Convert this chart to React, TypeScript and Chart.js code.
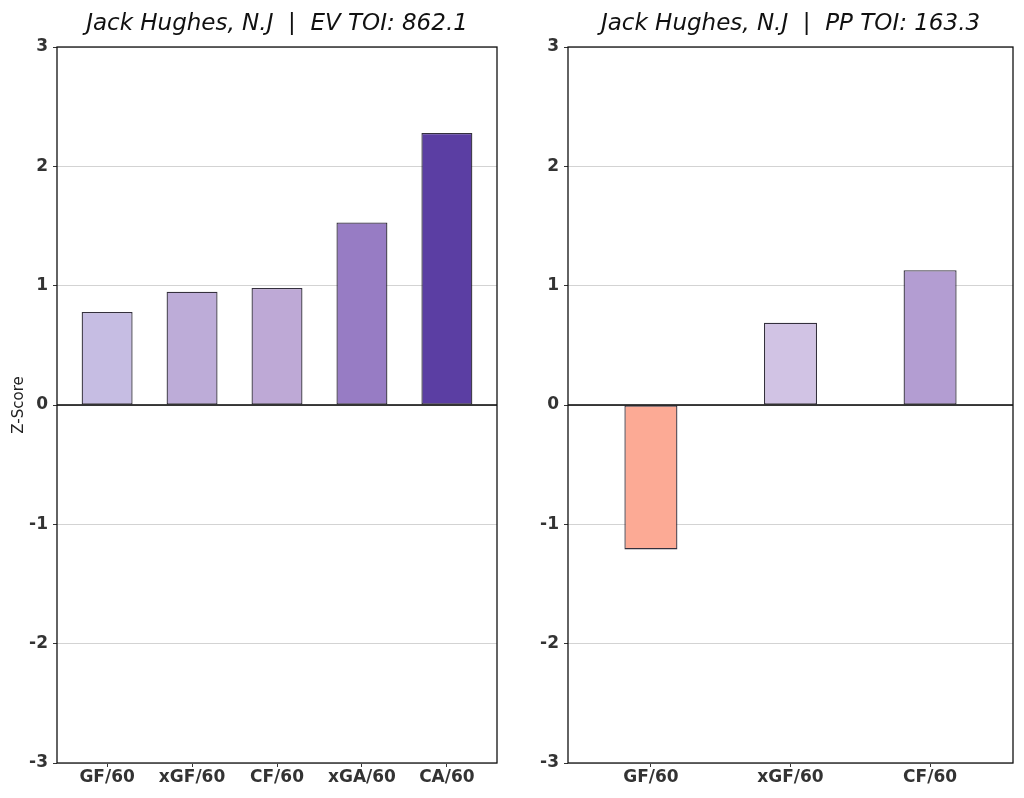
import React, { useEffect, useRef } from "react";
import { Chart, registerables } from "chart.js";

Chart.register(...registerables);

const evCategories = ["GF/60", "xGF/60", "CF/60", "xGA/60", "CA/60"];
const evValues = [0.78, 0.95, 0.98, 1.53, 2.28];
const evColors = ["#c6bde3", "#bdacd8", "#bea9d6", "#977cc4", "#5b3ea3"];

const ppCategories = ["GF/60", "xGF/60", "CF/60"];
const ppValues = [-1.21, 0.69, 1.13];
const ppColors = ["#fcaa95", "#d1c3e4", "#b39dd2"];

const yTicks = [-3, -2, -1, 0, 1, 2, 3];

const evTitle = "Jack Hughes, N.J  |  EV TOI: 862.1";
const ppTitle = "Jack Hughes, N.J  |  PP TOI: 163.3";

const FONT = "'DejaVu Sans', sans-serif";

const framePlugin = {
  id: "frameZero",
  afterDatasetsDraw(chart: any) {
    const { ctx, chartArea, scales } = chart;
    const y0 = Math.round(scales.y.getPixelForValue(0));
    ctx.save();
    ctx.strokeStyle = "#000";
    ctx.lineWidth = 1.3;
    ctx.beginPath();
    ctx.moveTo(chartArea.left, y0);
    ctx.lineTo(chartArea.right, y0);
    ctx.stroke();
    ctx.lineWidth = 1.3;
    ctx.strokeStyle = "#111";
    ctx.strokeRect(
      chartArea.left,
      chartArea.top,
      chartArea.right - chartArea.left,
      chartArea.bottom - chartArea.top
    );
    ctx.restore();
  },
};

function makeConfig(
  categories: string[],
  values: number[],
  colors: string[],
  title: string,
  opts: { yWidth: number; rightPad: number; xMin: number; xMax: number; barPct: number; yTitle: boolean }
): any {
  return {
    type: "bar",
    data: {
      datasets: [
        {
          data: values.map((v, i) => ({ x: i, y: v })),
          backgroundColor: colors,
          borderColor: "rgba(30,25,40,0.9)",
          borderWidth: 1.3,
          borderSkipped: false,
          barPercentage: opts.barPct,
          categoryPercentage: 1,
        },
      ],
    },
    options: {
      responsive: false,
      animation: false,
      devicePixelRatio: 1,
      layout: { padding: { left: 0, right: opts.rightPad, top: 0, bottom: 0 } },
      plugins: {
        legend: { display: false },
        tooltip: { enabled: false },
        title: {
          display: true,
          text: title,
          fullSize: false,
          color: "#111",
          font: { family: FONT, size: 23, style: "italic", weight: "normal", lineHeight: "26px" },
          padding: { top: 11.5, bottom: 9.5 },
        },
      },
      scales: {
        x: {
          type: "linear",
          offset: false,
          min: opts.xMin,
          max: opts.xMax,
          afterFit: (scale: any) => {
            scale.height = 35;
          },
          afterBuildTicks: (scale: any) => {
            scale.ticks = categories.map((_, i) => ({ value: i }));
          },
          ticks: {
            autoSkip: false,
            maxRotation: 0,
            padding: 0,
            color: "#333",
            font: { family: FONT, size: 17, weight: "bold" },
            callback: (value: any) => categories[value as number] ?? "",
          },
          grid: {
            offset: false,
            drawOnChartArea: false,
            drawTicks: true,
            tickLength: 4,
            tickColor: "#333",
          },
          border: { display: false },
        },
        y: {
          min: -3,
          max: 3,
          afterFit: (scale: any) => {
            scale.width = opts.yWidth;
          },
          afterBuildTicks: (scale: any) => {
            scale.ticks = yTicks.map((v) => ({ value: v }));
          },
          ticks: {
            padding: 5,
            color: "#333",
            font: { family: FONT, size: 17, weight: "bold" },
            callback: (value: any) => String(value),
          },
          grid: {
            color: "#d3d3d3",
            lineWidth: 1,
            drawTicks: true,
            tickLength: 4,
            tickColor: "#333",
          },
          border: { display: false },
          title: {
            display: opts.yTitle,
            text: "Z-Score",
            color: "#222",
            font: { family: FONT, size: 15, weight: "normal" },
            padding: { top: 10, bottom: 0 },
          },
        },
      },
    },
    plugins: [framePlugin],
  };
}

function BarPanel(props: {
  left: number;
  categories: string[];
  values: number[];
  colors: string[];
  title: string;
  opts: { yWidth: number; rightPad: number; xMin: number; xMax: number; barPct: number; yTitle: boolean };
}) {
  const ref = useRef<HTMLCanvasElement | null>(null);
  useEffect(() => {
    if (!ref.current) return;
    const chart = new Chart(
      ref.current,
      makeConfig(props.categories, props.values, props.colors, props.title, props.opts)
    );
    return () => chart.destroy();
  }, []);
  return (
    <canvas
      ref={ref}
      width={512}
      height={798}
      style={{ position: "absolute", left: props.left, top: 0, width: 512, height: 798 }}
    />
  );
}

export default function App() {
  return (
    <div
      style={{
        position: "absolute",
        left: 0,
        top: 0,
        width: 1024,
        height: 798,
        background: "#fff",
        overflow: "hidden",
      }}
    >
      <BarPanel
        left={0}
        categories={evCategories}
        values={evValues}
        colors={evColors}
        title={evTitle}
        opts={{ yWidth: 57, rightPad: 15, xMin: -0.59, xMax: 4.59, barPct: 0.6, yTitle: true }}
      />
      <BarPanel
        left={512}
        categories={ppCategories}
        values={ppValues}
        colors={ppColors}
        title={ppTitle}
        opts={{ yWidth: 56, rightPad: 11, xMin: -0.594, xMax: 2.594, barPct: 0.38, yTitle: false }}
      />
    </div>
  );
}
